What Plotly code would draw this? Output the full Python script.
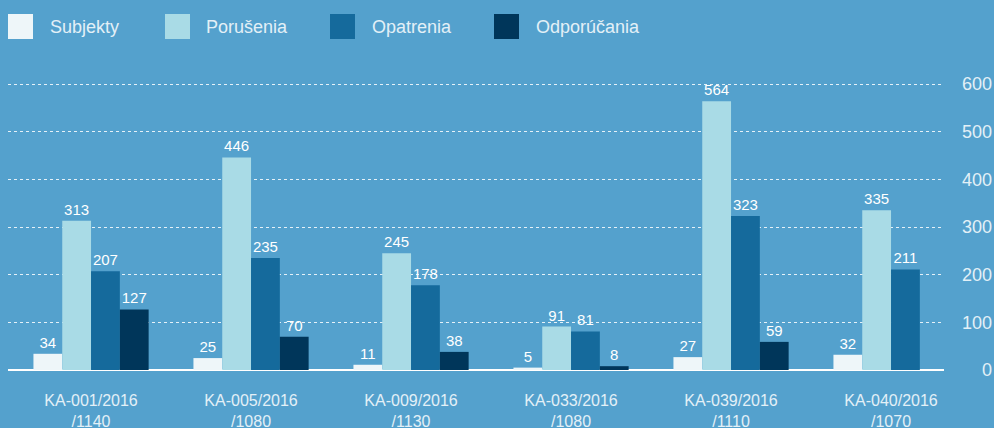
import plotly.graph_objects as go

categories = ["KA-001/2016<br>/1140", "KA-005/2016<br>/1080", "KA-009/2016<br>/1130",
              "KA-033/2016<br>/1080", "KA-039/2016<br>/1110", "KA-040/2016<br>/1070"]
series_names = ["Subjekty", "Porušenia", "Opatrenia", "Odporúčania"]
subjekty = [34, 25, 11, 5, 27, 32]
porusenia = [313, 446, 245, 91, 564, 335]
opatrenia = [207, 235, 178, 81, 323, 211]
odporucania = [127, 70, 38, 8, 59, None]
y_ticks = [0, 100, 200, 300, 400, 500, 600]

colors = ["#eef6f9", "#a9dbe6", "#156a9c", "#00365a"]
BG = "#54a1cd"
FONT = "Liberation Sans, Arial, sans-serif"
W, H = 994, 428
ML, MR, MT, MB = 8, 0, 70, 58
PW = W - ML - MR
PH = H - MT - MB

def px(x):
    return (x - ML) / PW

def py(y):
    return (H - MB - y) / PH

fig = go.Figure()
for name, vals, c in zip(series_names, [subjekty, porusenia, opatrenia, odporucania], colors):
    fig.add_trace(go.Bar(
        x=list(range(len(categories))), y=vals, name=name, marker=dict(color=c, line=dict(width=0)),
        text=[("" if v is None else str(v)) for v in vals], textposition="outside",
        textfont=dict(size=15, color="#ffffff", family=FONT), cliponaxis=False,
        showlegend=False, hoverinfo="skip",
    ))

# legend drawn as shapes + text
leg_x = [8, 165, 330, 494]
leg_tx = [50, 206, 372, 536]
for lx, tx, name, c in zip(leg_x, leg_tx, series_names, colors):
    fig.add_shape(type="rect", xref="paper", yref="paper",
                  x0=px(lx), x1=px(lx + 25), y0=py(39), y1=py(14),
                  fillcolor=c, line=dict(width=0))
    fig.add_annotation(xref="paper", yref="paper", x=px(tx), y=py(27),
                       text=name, showarrow=False, xanchor="left", yanchor="middle",
                       xshift=-2, font=dict(size=18, color="#e3f0f7", family=FONT))

fig.update_layout(
    width=W, height=H,
    margin=dict(l=ML, r=MR, t=MT, b=MB, pad=0, autoexpand=False),
    paper_bgcolor=BG, plot_bgcolor=BG,
    barmode="group", bargap=0.28, bargroupgap=0,
    font=dict(family=FONT, color="#e3f0f7"),
    xaxis=dict(domain=[0, (944 - ML) / PW], range=[-0.519, 5.331], automargin=False,
               tickmode="array", tickvals=list(range(len(categories))), ticktext=categories,
               showgrid=False, zeroline=False, showline=False, ticks="",
               tickfont=dict(size=16, color="#e3f0f7", family=FONT), ticklabelstandoff=19),
    yaxis=dict(range=[0, 600 * PH / 286], side="left", anchor="free", position=1.0,
               automargin=False, tickvals=y_ticks, ticks="", ticklabelstandoff=2,
               showgrid=True, gridcolor="rgba(255,255,255,0.85)", gridwidth=1, griddash="dot",
               zeroline=True, zerolinecolor="#ffffff", zerolinewidth=2, showline=False,
               tickfont=dict(size=18, color="#e3f0f7", family=FONT)),
)

fig.write_html("out.html", config={"displayModeBar": False},
               post_script="document.body.style.margin='0px';")
